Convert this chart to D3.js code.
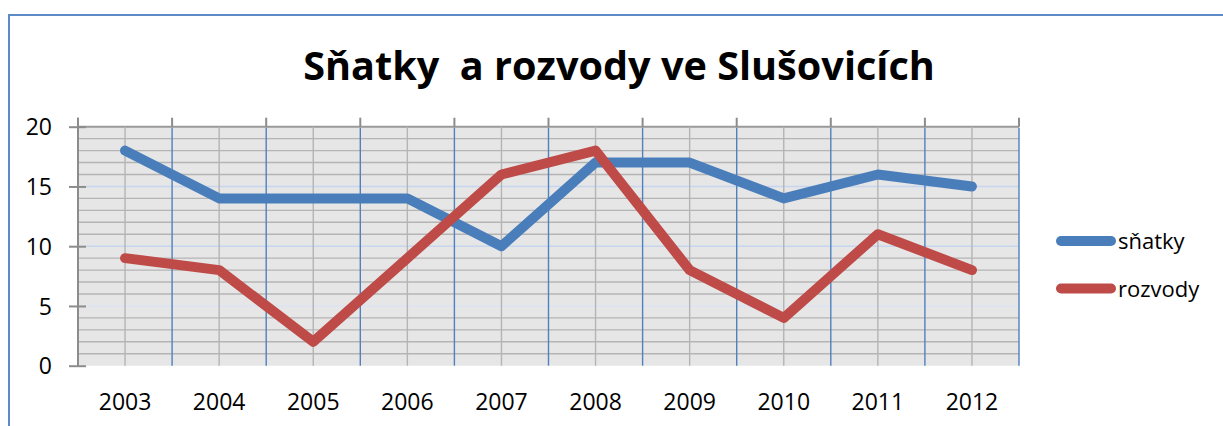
<!DOCTYPE html>
<html>
<head>
<meta charset="utf-8">
<script src="https://cdn.jsdelivr.net/npm/d3@7"></script>
<style>
  body { margin: 0; background: #fff; }
  svg { display: block; font-family: "Open Sans", "Noto Sans", sans-serif; }
</style>
</head>
<body>
<script>
// chart values
const years = ['2003', '2004', '2005', '2006', '2007', '2008', '2009', '2010', '2011', '2012'];
const snatky = [18, 14, 14, 14, 10, 17, 17, 14, 16, 15];
const rozvody = [9, 8, 2, 9, 16, 18, 8, 4, 11, 8];
const yTicks = [0, 5, 10, 15, 20];
const seriesNames = ['sňatky', 'rozvody'];
const titleText = 'Sňatky  a rozvody ve Slušovicích';

const W = 1223, H = 426;
const plot = { left: 78, right: 1019, top: 126.7, bottom: 365.7 };
const colors = ['#4a7ebb', '#be4b48'];
const font = '"Open Sans", "Noto Sans", sans-serif';

const svg = d3.select('body').append('svg')
  .attr('width', W)
  .attr('height', H);

// chart frame (runs off the right and bottom edge)
svg.append('rect')
  .attr('x', 9).attr('y', 15)
  .attr('width', 1300).attr('height', 500)
  .attr('fill', 'none')
  .attr('stroke', '#5b8ac6')
  .attr('stroke-width', 2);

const x = d3.scaleBand().domain(years).range([plot.left, plot.right]).padding(0);
const y = d3.scaleLinear().domain([0, 20]).range([plot.bottom, plot.top]);
const cx = d => x(d) + x.bandwidth() / 2;

// plot background
svg.append('rect')
  .attr('x', plot.left).attr('y', plot.top)
  .attr('width', plot.right - plot.left).attr('height', plot.bottom - plot.top)
  .attr('fill', '#e6e6e6');

const grid = svg.append('g');

// minor horizontal gridlines, every 1 unit
const minor = d3.range(1, 21).filter(v => v % 5 !== 0 || v === 20);
grid.selectAll('.hminor').data(minor).enter().append('line')
  .attr('x1', plot.left).attr('x2', plot.right)
  .attr('y1', d => y(d)).attr('y2', d => y(d))
  .attr('stroke', d => d === 20 ? '#9a9a9a' : '#b4b4b4')
  .attr('stroke-width', d => d === 20 ? 2 : 1.4);

// major horizontal gridlines
grid.selectAll('.hmajor').data([5, 10, 15]).enter().append('line')
  .attr('x1', plot.left + 8).attr('x2', plot.right)
  .attr('y1', d => y(d)).attr('y2', d => y(d))
  .attr('stroke', d => d === 5 ? '#dbe4f3' : '#c6d6ee')
  .attr('stroke-width', 1.5);

// vertical gray lines at category centres
grid.selectAll('.vminor').data(years).enter().append('line')
  .attr('x1', d => cx(d)).attr('x2', d => cx(d))
  .attr('y1', plot.top).attr('y2', plot.bottom)
  .attr('stroke', '#b4b4b4')
  .attr('stroke-width', 1.4);

// category boundaries
const bounds = years.map(d => x(d)).concat([plot.right]);
grid.selectAll('.vmajor').data(bounds.slice(1)).enter().append('line')
  .attr('x1', d => d).attr('x2', d => d)
  .attr('y1', plot.top + 1).attr('y2', plot.bottom)
  .attr('stroke', '#4f81bd')
  .attr('stroke-width', 1.4);

// top ticks at boundaries
grid.selectAll('.ttick').data(bounds).enter().append('line')
  .attr('x1', d => d).attr('x2', d => d)
  .attr('y1', plot.top - 9).attr('y2', plot.top)
  .attr('stroke', '#8c8c8c')
  .attr('stroke-width', 2);

// y axis
const yAxis = svg.append('g')
  .attr('transform', `translate(${plot.left},0)`)
  .call(d3.axisLeft(y).tickValues(yTicks).tickSize(9).tickPadding(17))
  .attr('font-family', font);
yAxis.select('.domain').remove();
yAxis.selectAll('.tick line').attr('x2', 8).attr('x1', -9)
  .attr('stroke', '#8c8c8c').attr('stroke-width', 2);
yAxis.selectAll('text')
  .attr('font-size', 23).attr('fill', '#000').attr('dy', '0.36em');
svg.append('line')
  .attr('x1', plot.left).attr('x2', plot.left)
  .attr('y1', plot.top - 9).attr('y2', plot.bottom + 1)
  .attr('stroke', '#8c8c8c').attr('stroke-width', 2);

// x axis labels
const xAxis = svg.append('g')
  .attr('transform', `translate(0,${plot.bottom})`)
  .call(d3.axisBottom(x).tickSize(0).tickPadding(0))
  .attr('font-family', font);
xAxis.select('.domain').remove();
xAxis.selectAll('text')
  .attr('font-size', 23).attr('fill', '#000')
  .attr('dy', 0).attr('y', 44);

// series lines
const line = d3.line().x((d, i) => cx(years[i])).y(d => y(d));
[snatky, rozvody].forEach((s, i) => {
  svg.append('path')
    .datum(s)
    .attr('d', line)
    .attr('fill', 'none')
    .attr('stroke', colors[i])
    .attr('stroke-width', 10)
    .attr('stroke-linejoin', 'round')
    .attr('stroke-linecap', 'round');
});

// legend
const legend = svg.append('g');
seriesNames.forEach((name, i) => {
  const ly = 241 + i * 47.5;
  legend.append('line')
    .attr('x1', 1061).attr('x2', 1111)
    .attr('y1', ly).attr('y2', ly)
    .attr('stroke', colors[i])
    .attr('stroke-width', 10)
    .attr('stroke-linecap', 'round');
  legend.append('text')
    .attr('x', 1118).attr('y', ly + 8)
    .attr('font-size', 22)
    .attr('fill', '#000')
    .text(name);
});

// title, sized to fit the reference width
const title = svg.append('text')
  .attr('x', 619).attr('y', 80)
  .attr('text-anchor', 'middle')
  .attr('font-weight', 'bold')
  .attr('font-size', 40)
  .attr('fill', '#000')
  .style('white-space', 'pre')
  .text(titleText);
const tw = title.node().getComputedTextLength();
title.attr('font-size', 40 * 632 / tw);
</script>
</body>
</html>
